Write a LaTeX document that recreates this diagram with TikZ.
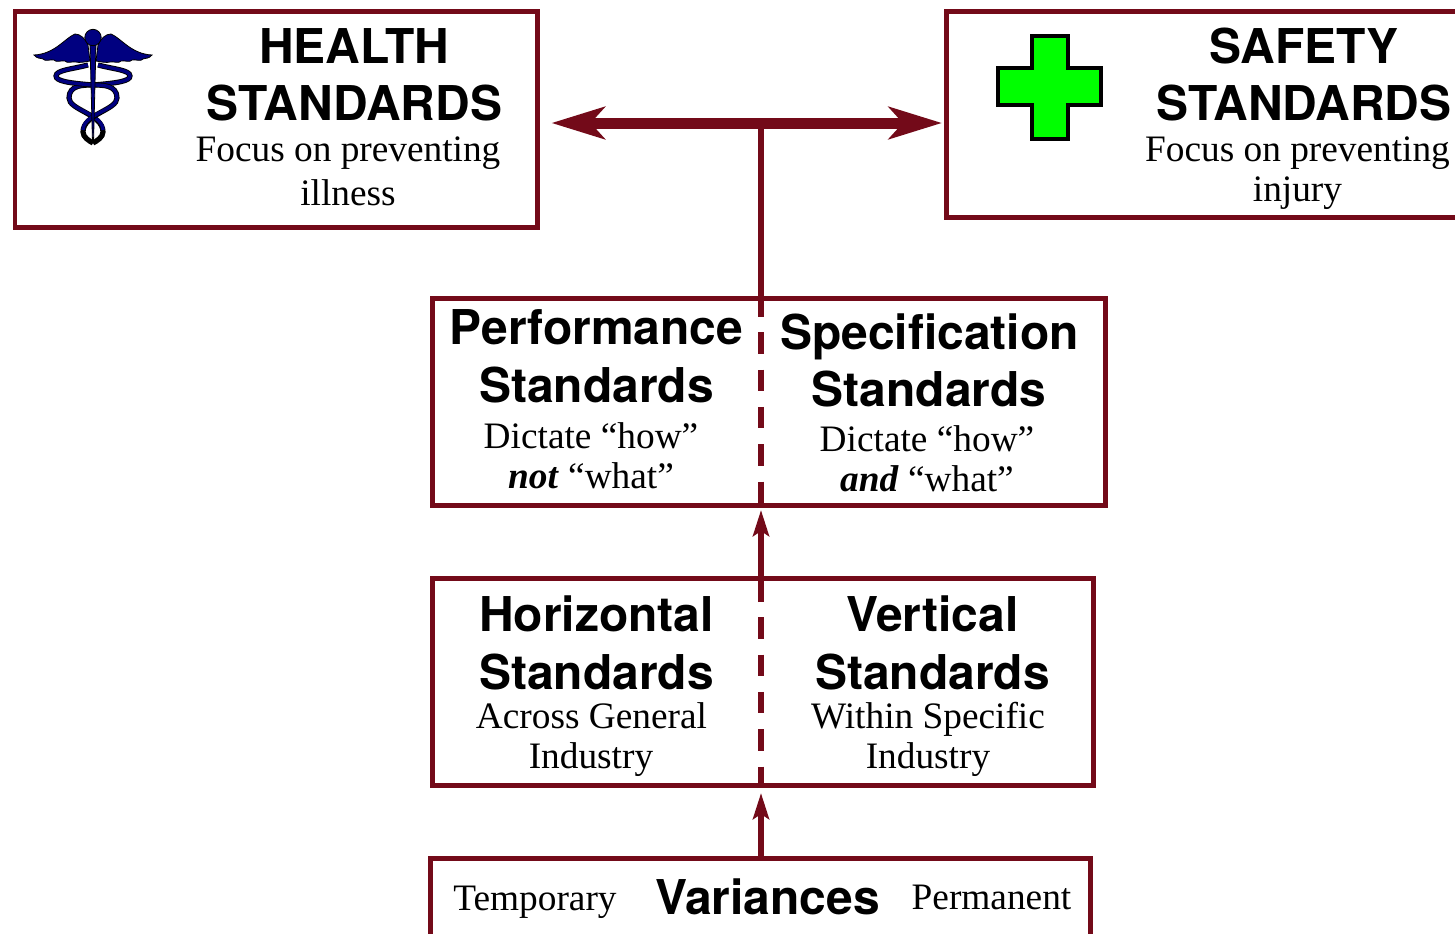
\documentclass[tikz,border=0pt]{standalone}
\usepackage{fontspec}
\setmainfont{Liberation Serif}
\setsansfont{TeX Gyre Heros}
\usetikzlibrary{arrows.meta}
\definecolor{maroon}{RGB}{115,10,25}
\definecolor{navyblue}{RGB}{0,0,128}
\tikzset{
  frame/.style={draw=maroon,line width=0.5mm,fill=white},
  head/.style={anchor=base,inner sep=0pt,font=\sffamily\bfseries\fontsize{13.65pt}{16pt}\selectfont},
  sub/.style={anchor=base,inner sep=0pt,font=\fontsize{10.62pt}{12pt}\selectfont},
  link/.style={draw=maroon,line width=0.55mm},
  bigarrow/.style={draw=maroon,line width=1.1mm,{Stealth[length=5.3mm,width=3.2mm,inset=1.4mm]}-{Stealth[length=5.3mm,width=3.2mm,inset=1.4mm]}},
  smallarrow/.style={draw=maroon,line width=0.55mm,-{Stealth[length=2.6mm,width=1.6mm,inset=0.5mm]}},
  divider/.style={draw=maroon,line width=0.55mm,dash pattern=on 2.15mm off 1.58mm}
}
\begin{document}
\begin{tikzpicture}[x=0.1mm,y=-0.1mm]
\useasboundingbox (0,0) rectangle (1455,934);
% boxes
\draw [frame] (15,11) rectangle (537,227);
\draw [frame] (946,11) rectangle (1490,217);
\draw [frame] (432,298) rectangle (1105,505);
\draw [frame] (432,578) rectangle (1093,785);
\draw [frame] (430,858) rectangle (1090,990);

\coordinate (hub) at (761,123);
\coordinate (tipl) at (551.5,123);
\coordinate (tipr) at (942,123);
\coordinate (perftop) at (761,295);
\coordinate (perflow) at (761,505);
\coordinate (perfhit) at (761,510);
\coordinate (horztop) at (761,580);
\coordinate (horzarr) at (761,602);
\coordinate (horzlow) at (761,786);
\coordinate (horzhit) at (761,793);
\coordinate (vartop) at (761,858);

% connectors
\draw [link] (hub) -- (perftop);
\draw [divider] (perftop) -- (perflow);
\draw [smallarrow] (horzarr) -- (perfhit);
\draw [divider] (horztop) -- (horzlow);
\draw [smallarrow] (vartop) -- (horzhit);
\draw [bigarrow] (tipl) -- (tipr);

% caduceus
\foreach \s in {1,-1}{
\begin{scope}[shift={(93,0)},xscale=\s]
\draw [black,line width=0.52mm] (5,65) .. controls (20,69) and (37,70) .. (37,76) .. controls (37,81) and (25,83) .. (0,85) .. controls (-10,85) and (-24,85) .. (-24,98) .. controls (-24,110) and (10,114) .. (10,132) .. controls (10,137) and (4,141) .. (0,143);
\draw [navyblue,line width=0.34mm] (5,65) .. controls (20,69) and (37,70) .. (37,76) .. controls (37,81) and (25,83) .. (0,85) .. controls (-10,85) and (-24,85) .. (-24,98) .. controls (-24,110) and (10,114) .. (10,130);
\draw [black,line width=0.08mm,fill=navyblue] (-5,45) .. controls (-8,38) and (-13,34) .. (-18,34) .. controls (-28,38) and (-38,54) .. (-59,55)
  .. controls (-56,59) and (-52,58) .. (-50,59) .. controls (-48,62) and (-42,59) .. (-39,60) .. controls (-37,63) and (-31,60) .. (-28,61) .. controls (-26,64) and (-20,61) .. (-17,62) .. controls (-14,63) and (-8,62) .. (-3,61) -- cycle;
\end{scope}
}
\draw [black,line width=0.08mm,fill=navyblue] (90,44) -- (96,44) -- (93.5,143) -- (92.5,143) -- cycle;
\draw [draw=black,line width=0.08mm,fill=navyblue] (93,37.5) circle(8.2);

% green cross
\draw [black,line width=0.4mm,fill=green]
  (1032,36) -- (1068,36) -- (1068,68) -- (1101,68) -- (1101,105) -- (1068,105) -- (1068,139) -- (1032,139) -- (1032,105) -- (998,105) -- (998,68) -- (1032,68) -- cycle;

% health
\node [head] (healthA) at (354,63) {HEALTH};
\node [head] (healthB) at (354.5,120) {STANDARDS};
\node [sub] (healthC) at (348,161) {Focus on preventing};
\node [sub] (healthD) at (348,205) {illness};
% safety
\node [head] (safetyA) at (1304,63) {SAFETY};
\node [head] (safetyB) at (1304,120) {STANDARDS};
\node [sub] (safetyC) at (1297.5,161) {Focus on preventing};
\node [sub] (safetyD) at (1297.5,201) {injury};
% performance / specification
\node [head] (perfA) at (596.5,344) {Performance};
\node [head] (perfB) at (596.5,402) {Standards};
\node [sub] (perfC) at (591,448) {Dictate “how”};
\node [sub] (perfD) at (591,488) {\textbf{\textit{not}} “what”};
\node [head] (specA) at (929.5,349) {Specification};
\node [head] (specB) at (929,406) {Standards};
\node [sub] (specC) at (927,451) {Dictate “how”};
\node [sub] (specD) at (927,491) {\textbf{\textit{and}} “what”};
% horizontal / vertical
\node [head] (horzA) at (596.5,631) {Horizontal};
\node [head] (horzB) at (596.5,689) {Standards};
\node [sub] (horzC) at (591.5,728) {Across General};
\node [sub] (horzD) at (591,768) {Industry};
\node [head] (vertA) at (932.5,631) {Vertical};
\node [head] (vertB) at (932.5,689) {Standards};
\node [sub] (vertC) at (928,728) {Within Specific};
\node [sub] (vertD) at (928,768) {Industry};
% variances
\node [sub] (varA) at (535,910) {Temporary};
\node [head] (varB) at (767.5,914) {Variances};
\node [sub] (varC) at (991.5,909) {Permanent};
\end{tikzpicture}
\end{document}
